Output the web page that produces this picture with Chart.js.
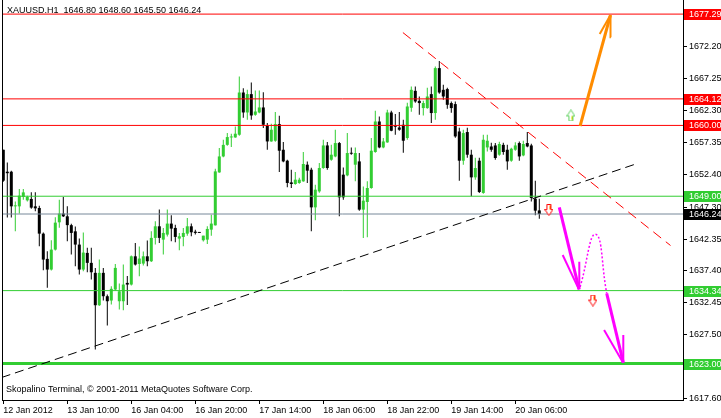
<!DOCTYPE html>
<html>
<head>
<meta charset="utf-8">
<script src="https://cdn.jsdelivr.net/npm/chart.js@4.4.1/dist/chart.umd.min.js"></script>
<style>
  html, body { margin: 0; padding: 0; background: #fff; }
  #chart { display: block; }
</style>
</head>
<body>
<canvas id="chart" width="721" height="418"></canvas>
<script>
const symbolTitle = 'XAUUSD.H1  1646.80 1648.60 1645.50 1646.24'
const footerText = 'Skopalino Terminal, © 2001-2011 MetaQuotes Software Corp.'

// H1 bars, oldest first
const opens = [
  1656.22, 1652.81, 1652.81, 1647.43, 1647.43, 1648.89, 1648.36, 1648.58, 1647.43, 1647.18,
  1643.19, 1639.27, 1637.61, 1640.71, 1644.95, 1646.30, 1645.88, 1644.51, 1643.55, 1641.49,
  1637.61, 1640.20, 1638.65, 1637.10, 1632.07, 1637.10, 1633.47, 1632.80, 1634.51, 1632.69,
  1632.69, 1635.54, 1635.28, 1639.67, 1638.47, 1638.54, 1639.67, 1638.90, 1642.53, 1644.33,
  1642.26, 1643.04, 1644.75, 1644.08, 1642.42, 1642.68, 1643.19, 1644.33, 1643.50, 1643.40,
  1642.16, 1642.26, 1643.81, 1644.48, 1652.70, 1655.18, 1656.98, 1658.13, 1658.13, 1658.55,
  1665.11, 1662.01, 1664.86, 1661.65, 1662.01, 1662.79, 1659.95, 1657.51, 1657.62, 1660.21,
  1656.22, 1654.52, 1651.15, 1650.90, 1651.06, 1651.31, 1653.90, 1653.12, 1647.27, 1649.75,
  1653.38, 1656.89, 1654.67, 1655.18, 1657.26, 1652.35, 1652.24, 1655.71, 1653.90, 1654.41,
  1646.92, 1648.11, 1650.28, 1655.87, 1660.61, 1656.58, 1657.36, 1662.01, 1659.90, 1659.68,
  1660.10, 1658.04, 1662.74, 1665.37, 1663.82, 1662.69, 1662.69, 1664.86, 1661.92, 1668.90,
  1665.53, 1665.64, 1663.47, 1663.31, 1659.06, 1654.52, 1658.97, 1655.45, 1651.93, 1654.52,
  1649.51, 1656.58, 1656.73, 1656.89, 1655.45, 1656.98, 1656.22, 1654.52, 1656.22, 1657.26,
  1655.34, 1657.26, 1656.89, 1648.62, 1646.80
]
const highs = [
  1656.22, 1654.25, 1652.97, 1648.20, 1650.13, 1650.13, 1649.09, 1649.60, 1649.60, 1647.54,
  1643.35, 1640.45, 1642.16, 1645.75, 1648.47, 1648.89, 1647.46, 1644.74, 1644.28, 1642.42,
  1643.35, 1640.98, 1640.98, 1637.87, 1639.16, 1637.87, 1633.73, 1635.02, 1638.49, 1635.44,
  1638.39, 1636.60, 1639.78, 1641.75, 1641.18, 1640.40, 1642.11, 1643.55, 1645.10, 1646.92,
  1644.08, 1646.92, 1646.03, 1644.59, 1643.30, 1644.08, 1645.63, 1644.75, 1643.81, 1643.43,
  1642.88, 1644.33, 1646.14, 1653.28, 1656.49, 1657.77, 1658.81, 1658.71, 1659.84, 1667.59,
  1665.79, 1665.53, 1666.66, 1665.42, 1665.42, 1665.17, 1660.36, 1660.26, 1662.07, 1661.50,
  1657.42, 1654.67, 1653.12, 1652.76, 1651.88, 1655.87, 1654.41, 1653.43, 1650.79, 1654.16,
  1657.77, 1657.42, 1656.98, 1659.33, 1657.42, 1653.48, 1658.81, 1656.58, 1656.58, 1655.71,
  1650.53, 1651.31, 1658.04, 1662.27, 1661.39, 1658.04, 1662.43, 1662.27, 1661.76, 1662.07,
  1660.88, 1663.51, 1666.04, 1666.04, 1664.49, 1663.82, 1665.84, 1666.04, 1669.14, 1670.00,
  1666.31, 1665.84, 1663.72, 1663.72, 1659.64, 1659.33, 1659.64, 1656.22, 1654.98, 1654.98,
  1658.55, 1658.55, 1657.31, 1657.26, 1657.46, 1657.31, 1656.98, 1656.53, 1657.39, 1657.51,
  1657.62, 1658.97, 1657.15, 1651.42, 1648.60
]
const lows = [
  1651.26, 1645.68, 1645.68, 1643.55, 1646.30, 1648.47, 1648.20, 1647.07, 1646.65, 1641.22,
  1637.50, 1634.77, 1637.46, 1640.56, 1644.12, 1645.78, 1642.00, 1639.94, 1638.12, 1636.84,
  1637.35, 1637.19, 1636.06, 1625.20, 1631.95, 1632.80, 1628.92, 1632.18, 1634.35, 1631.40,
  1631.30, 1632.10, 1635.13, 1638.23, 1636.57, 1638.23, 1638.12, 1638.77, 1641.49, 1641.75,
  1639.94, 1642.73, 1642.00, 1641.85, 1640.60, 1641.22, 1642.88, 1642.78, 1643.04, 1643.27,
  1641.95, 1641.60, 1642.88, 1644.44, 1652.66, 1655.06, 1656.84, 1656.64, 1658.08, 1658.40,
  1661.19, 1660.88, 1660.88, 1661.50, 1661.88, 1659.59, 1656.22, 1657.46, 1657.46, 1652.76,
  1654.28, 1650.38, 1650.28, 1650.79, 1650.95, 1651.26, 1651.06, 1643.55, 1645.26, 1649.55,
  1653.28, 1653.12, 1654.52, 1655.06, 1645.88, 1648.47, 1652.11, 1655.45, 1651.31, 1646.76,
  1642.53, 1642.62, 1650.17, 1655.76, 1656.46, 1656.46, 1657.31, 1659.09, 1658.55, 1659.17,
  1655.76, 1657.77, 1662.12, 1663.51, 1661.65, 1661.54, 1662.58, 1660.36, 1660.88, 1664.91,
  1663.98, 1662.58, 1661.96, 1658.08, 1651.42, 1653.90, 1654.98, 1648.98, 1651.57, 1649.51,
  1649.40, 1655.96, 1655.91, 1654.67, 1655.29, 1655.45, 1653.12, 1654.36, 1656.07, 1654.52,
  1655.22, 1656.61, 1648.20, 1646.03, 1645.50
]
const closes = [
  1651.42, 1652.58, 1647.43, 1647.58, 1649.09, 1649.60, 1648.89, 1647.23, 1647.12, 1643.19,
  1639.16, 1637.61, 1640.71, 1644.90, 1646.30, 1645.88, 1644.51, 1643.30, 1641.49, 1637.61,
  1640.25, 1638.65, 1637.19, 1632.07, 1637.10, 1633.47, 1632.69, 1634.62, 1637.87, 1634.24,
  1635.28, 1635.28, 1639.67, 1638.39, 1639.32, 1639.67, 1638.90, 1642.53, 1644.33, 1642.53,
  1643.30, 1644.75, 1643.97, 1642.68, 1642.78, 1643.30, 1644.33, 1643.40, 1643.30, 1643.30,
  1642.88, 1643.92, 1644.75, 1652.86, 1655.18, 1656.98, 1658.19, 1658.24, 1658.71, 1665.11,
  1662.01, 1664.86, 1661.54, 1662.16, 1662.79, 1660.10, 1657.51, 1659.33, 1660.21, 1656.07,
  1654.41, 1651.06, 1650.90, 1651.57, 1651.57, 1654.01, 1652.97, 1647.27, 1650.02, 1653.38,
  1656.89, 1653.38, 1655.45, 1657.26, 1648.83, 1648.83, 1655.71, 1655.60, 1655.71, 1646.92,
  1648.31, 1650.28, 1656.07, 1660.61, 1656.58, 1657.51, 1662.01, 1659.17, 1659.79, 1659.33,
  1657.62, 1662.94, 1665.53, 1663.72, 1663.47, 1663.47, 1664.49, 1661.92, 1668.90, 1665.11,
  1664.49, 1663.20, 1662.69, 1658.29, 1654.52, 1658.81, 1655.45, 1651.93, 1653.38, 1649.66,
  1657.77, 1657.62, 1656.22, 1654.94, 1657.11, 1655.87, 1654.41, 1656.38, 1656.89, 1655.18,
  1657.11, 1656.73, 1648.73, 1646.76, 1646.24
]

// time axis: a label every 16 bars
const dateTickIndex = [0, 16, 32, 48, 64, 80, 96, 112, 128]
const dateTickLabels = ['12 Jan 2012', '13 Jan 10:00', '16 Jan 04:00', '16 Jan 20:00', '17 Jan 14:00',
  '18 Jan 06:00', '18 Jan 22:00', '19 Jan 14:00', '20 Jan 06:00']
const priceTicks = [1672.20, 1667.25, 1662.30, 1657.35, 1652.40, 1647.30, 1642.35, 1637.40, 1632.45, 1627.50, 1622.55, 1617.60]

// horizontal levels
const resistanceLevels = [1677.29, 1664.12, 1660.00]
const supportLevels = [1649.00, 1634.34, 1623.00]
const lastPrice = 1646.24

// drawn objects, as [bar index, price]
const supportTrend = [[-0.4, 1620.85], [157.9, 1653.96]]
const resistanceTrend = [[99.9, 1674.42], [166.8, 1641.35]]
const bullPath = [[144.2, 1659.91], [151.8, 1677.15]]
const bullHeadLeft = [[149.1, 1674.20], [151.8, 1677.15]]
const bullHeadRight = [[151.9, 1673.70], [151.8, 1677.15]]
const bearLeg1 = [[139.0, 1647.28], [143.95, 1634.54]]
const bearHead1a = [[139.85, 1639.87], [143.9, 1634.54]]
const bearHead1b = [[144.0, 1638.83], [144.0, 1634.54]]
const pullback = [[144.2, 1634.90], [148.1, 1643.09], [150.85, 1633.92]]
const bearLeg2 = [[150.85, 1633.92], [155.0, 1623.14]]
const bearHead2a = [[150.2, 1628.22], [154.95, 1623.14]]
const bearHead2b = [[155.0, 1627.44], [155.0, 1623.14]]
const sellSignals = [[136.4, 1646.86], [147.4, 1632.80]]
const buySignals = [[141.9, 1661.54]]

const GREEN = '#32cd32'
const RED = '#ff0000'
const MAGENTA = '#ff00ff'
const ORANGE = '#ff8c00'
const FONT = { family: 'Liberation Sans', size: 9 }

document.addEventListener('DOMContentLoaded', () => {
  const xMin = -0.325
  const xMax = 169.925

  const toPoints = (pairs) => pairs.map(([x, y]) => ({ x, y }))

  const makeArrowIcon = (up, outer, inner) => {
    const c = document.createElement('canvas')
    c.width = 9
    c.height = 12
    const g = c.getContext('2d')
    const pts = [[2.5, 0.5], [6.5, 0.5], [6.5, 5.5], [8.5, 5.5], [4.5, 11.5], [0.5, 5.5], [2.5, 5.5]]
    const path = pts.map(([x, y]) => [x, up ? 12 - y : y])
    g.beginPath()
    path.forEach(([x, y], i) => i ? g.lineTo(x, y) : g.moveTo(x, y))
    g.closePath()
    g.fillStyle = '#fff'
    g.fill()
    g.strokeStyle = outer
    g.lineWidth = 1
    g.stroke()
    g.beginPath()
    g.moveTo(5.5, up ? 10.5 : 1.5)
    g.lineTo(5.5, up ? 6.5 : 5.5)
    g.strokeStyle = inner
    g.stroke()
    return c
  }

  const lineSet = (points, color, width, extra = {}) => ({
    type: 'line',
    data: points,
    borderColor: color,
    borderWidth: width,
    pointRadius: 0,
    fill: false,
    order: 0,
    ...extra
  })

  const candleColor = opens.map((o, i) => closes[i] >= o ? GREEN : '#000')

  const levelLine = (price, color, width) =>
    lineSet([{ x: xMin, y: price }, { x: xMax, y: price }], color, width, { order: 1 })

  const datasets = [
    // wicks
    {
      type: 'bar',
      data: highs.map((h, i) => ({ x: i, y: [lows[i], h] })),
      backgroundColor: candleColor,
      barThickness: 1,
      grouped: false,
      inflateAmount: 0,
      borderWidth: 0,
      order: 3
    },
    // bodies
    {
      type: 'bar',
      data: opens.map((o, i) => ({ x: i, y: [o, closes[i]] })),
      backgroundColor: candleColor,
      barThickness: 3,
      minBarLength: 1,
      grouped: false,
      inflateAmount: 0,
      borderWidth: 0,
      order: 2
    },
    ...resistanceLevels.map(p => levelLine(p, RED, 1)),
    levelLine(supportLevels[0], GREEN, 1),
    levelLine(supportLevels[1], GREEN, 1),
    levelLine(supportLevels[2], GREEN, 3),
    levelLine(lastPrice, '#778899', 1),
    lineSet(toPoints(supportTrend), '#000', 1, { borderDash: [9, 5] }),
    lineSet(toPoints(resistanceTrend), RED, 1, { borderDash: [10, 6] }),
    lineSet(toPoints(bullPath), ORANGE, 3),
    lineSet(toPoints(bullHeadLeft), ORANGE, 2),
    lineSet(toPoints(bullHeadRight), ORANGE, 2),
    lineSet(toPoints(bearLeg1), MAGENTA, 3),
    lineSet(toPoints(bearHead1a), MAGENTA, 2),
    lineSet(toPoints(bearHead1b), MAGENTA, 2),
    lineSet(toPoints(pullback), MAGENTA, 1.5, { borderDash: [2, 2], tension: 0.5 }),
    lineSet(toPoints(bearLeg2), MAGENTA, 3),
    lineSet(toPoints(bearHead2a), MAGENTA, 2),
    lineSet(toPoints(bearHead2b), MAGENTA, 2),
    {
      type: 'scatter',
      data: toPoints(sellSignals),
      pointStyle: makeArrowIcon(false, RED, ORANGE),
      pointRadius: 5,
      order: 0
    },
    {
      type: 'scatter',
      data: toPoints(buySignals),
      pointStyle: makeArrowIcon(true, '#5ed15e', '#e8d800'),
      pointRadius: 5,
      order: 0
    }
  ]

  const noPadding = (s) => {
    s.paddingTop = 0
    s.paddingBottom = 0
    s.paddingLeft = 0
    s.paddingRight = 0
  }

  const priceTags = [
    ...resistanceLevels.map(p => [p, RED]),
    ...supportLevels.map(p => [p, GREEN]),
    [lastPrice, '#000']
  ]

  const overlayText = {
    id: 'overlayText',
    afterDraw(chart) {
      const { ctx, chartArea } = chart
      const y = chart.scales.y
      ctx.save()
      // chart frame
      ctx.strokeStyle = '#000'
      ctx.lineWidth = 1
      ctx.beginPath()
      ctx.moveTo(chartArea.left + 0.5, chartArea.top)
      ctx.lineTo(chartArea.left + 0.5, chartArea.bottom + 0.5)
      ctx.lineTo(chartArea.right + 0.5, chartArea.bottom + 0.5)
      ctx.lineTo(chartArea.right + 0.5, chartArea.top)
      ctx.stroke()

      ctx.font = '9px "Liberation Sans"'
      ctx.fillStyle = '#000'
      ctx.textBaseline = 'alphabetic'
      ctx.fillText(symbolTitle, 7, 13)
      ctx.fillText(footerText, 6, 392)

      // price tags on the right scale
      ctx.textBaseline = 'middle'
      priceTags.forEach(([p, color]) => {
        const py = Math.round(y.getPixelForValue(p))
        ctx.fillStyle = color
        ctx.fillRect(684, py - 5, 40, 11)
        ctx.fillStyle = '#fff'
        ctx.fillText(p.toFixed(2), 689, py + 0.5)
      })
      ctx.restore()
    }
  }

  new Chart(document.getElementById('chart'), {
    type: 'bar',
    data: { datasets },
    options: {
      responsive: false,
      animation: false,
      devicePixelRatio: 1,
      layout: { padding: 0, autoPadding: false },
      plugins: {
        legend: { display: false },
        tooltip: { enabled: false }
      },
      scales: {
        x: {
          type: 'linear',
          offset: false,
          min: xMin,
          max: xMax,
          afterBuildTicks: (s) => { s.ticks = dateTickIndex.map(v => ({ value: v })) },
          afterFit: (s) => { s.height = 18; noPadding(s) },
          ticks: {
            autoSkip: false,
            maxRotation: 0,
            minRotation: 0,
            align: 'start',
            padding: 1,
            color: '#000',
            font: FONT,
            callback: (v, i) => dateTickLabels[i]
          },
          grid: { offset: false, drawOnChartArea: false, tickLength: 4, color: '#000' },
          border: { color: '#000' }
        },
        y: {
          position: 'right',
          min: 1617.35,
          max: 1679.48,
          afterBuildTicks: (s) => { s.ticks = priceTicks.map(v => ({ value: v })) },
          afterFit: (s) => { s.width = 38; noPadding(s) },
          ticks: {
            autoSkip: false,
            padding: 2,
            color: '#000',
            font: FONT,
            callback: (v) => Number(v).toFixed(2)
          },
          grid: { drawOnChartArea: false, tickLength: 4, color: '#000' },
          border: { color: '#000' }
        },
        yl: {
          position: 'left',
          min: 1617.35,
          max: 1679.48,
          afterFit: (s) => { s.width = 2; noPadding(s) },
          ticks: { display: false },
          grid: { drawOnChartArea: false, drawTicks: false },
          border: { color: '#000' }
        }
      }
    },
    plugins: [overlayText]
  })
})
</script>
</body>
</html>
